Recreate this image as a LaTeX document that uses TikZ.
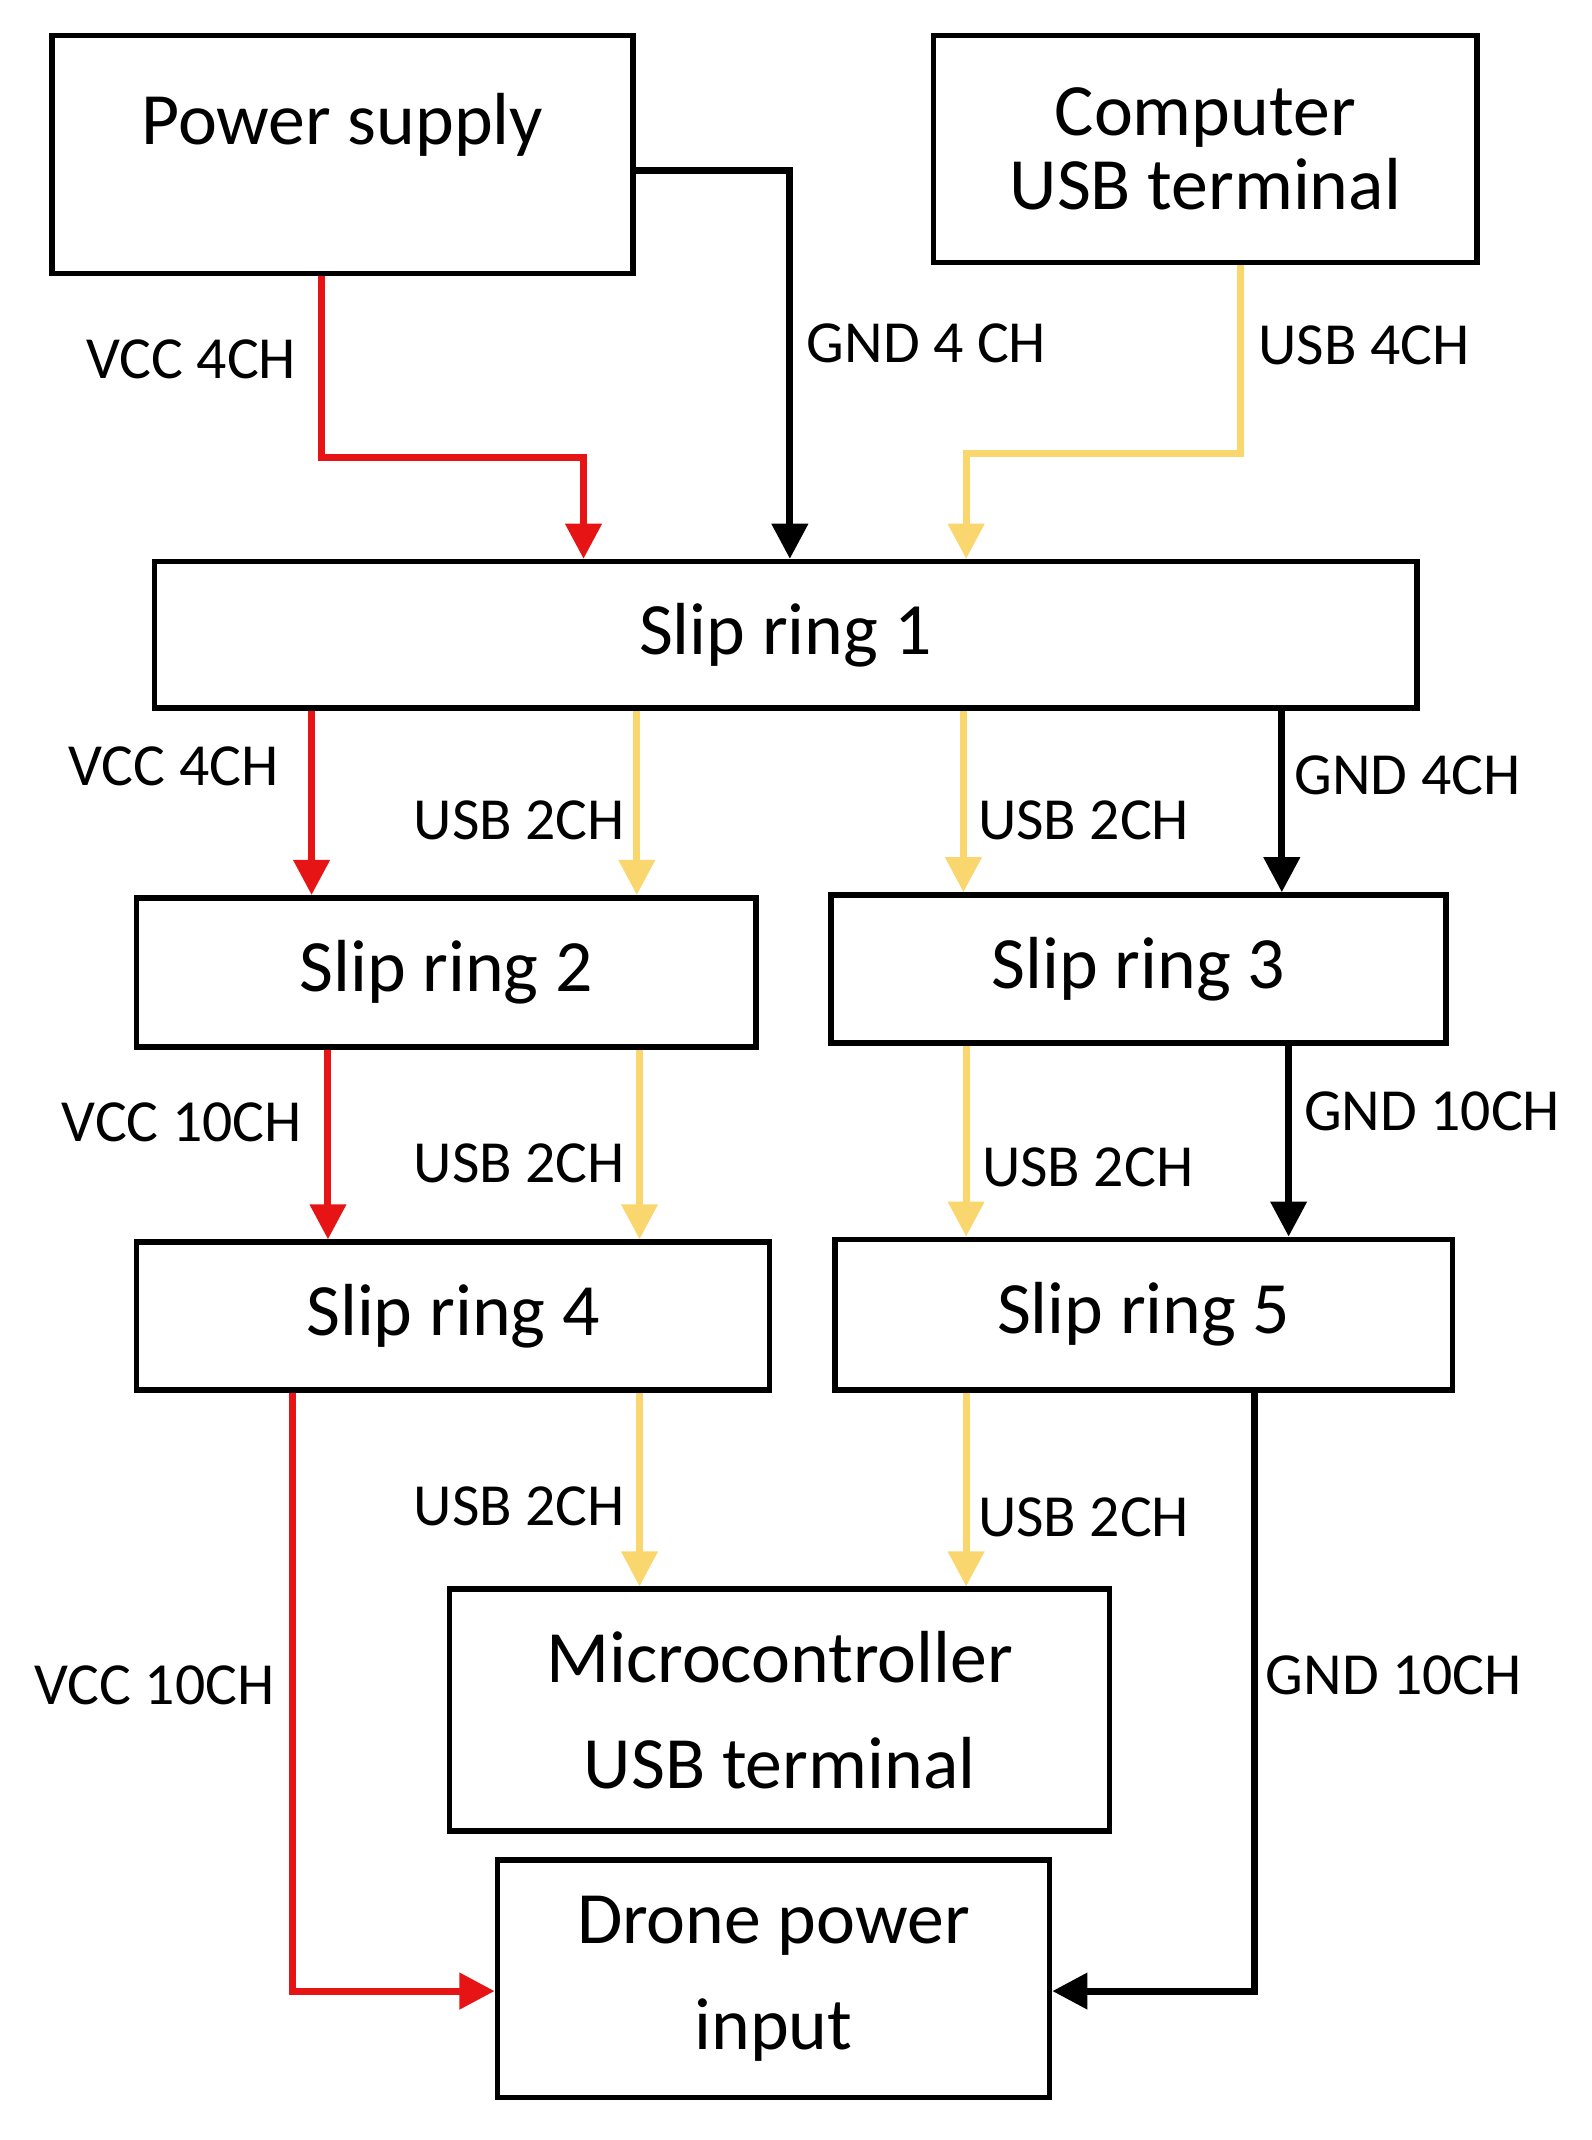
\documentclass[tikz,border=0pt]{standalone}
\usepackage{fontspec}
\setmainfont{Carlito}
\usetikzlibrary{arrows.meta}
\definecolor{vccred}{RGB}{230,20,20}
\definecolor{usbyel}{RGB}{250,215,110}
\begin{document}
\begin{tikzpicture}[x=0.01367cm,y=-0.01367cm,
    block/.style={draw,line width=1.6pt,align=center,font=\fontsize{21}{30}\selectfont,inner sep=0pt},
    wire/.style={line width=2pt,-{Triangle[length=10pt,width=10pt]}},
    vcc/.style={wire,vccred},
    usb/.style={wire,usbyel},
    gnd/.style={wire,black},
    lab/.style={font=\fontsize{17}{20}\selectfont}]

\useasboundingbox (0,0) rectangle (1165,1566);

% boxes
\node[block,minimum width=425*0.01367cm,minimum height=174*0.01367cm,text depth=0.72cm] (ps) at (250.5,113) {Power supply};
\node[block,minimum width=398*0.01367cm,minimum height=166*0.01367cm] (pc) at (882,109) {Computer\\[-9pt]USB terminal};
\node[block,minimum width=924*0.01367cm,minimum height=107*0.01367cm] (sr1) at (575,464.5) {Slip ring 1};
\node[block,minimum width=453*0.01367cm,minimum height=109*0.01367cm] (sr2) at (326.5,711.5) {Slip ring 2};
\node[block,minimum width=450*0.01367cm,minimum height=108*0.01367cm] (sr3) at (833,709) {Slip ring 3};
\node[block,minimum width=463*0.01367cm,minimum height=108*0.01367cm] (sr4) at (331.5,963) {Slip ring 4};
\node[block,minimum width=452*0.01367cm,minimum height=110*0.01367cm] (sr5) at (837,962) {Slip ring 5};
\node[block,minimum width=483*0.01367cm,minimum height=177*0.01367cm] (mcu) at (570.5,1251.5) {Microcontroller\\USB terminal};
\node[block,minimum width=404*0.01367cm,minimum height=174*0.01367cm] (drone) at (566,1448) {Drone power\\input};

% columns
\coordinate (xa) at (235,0);
\coordinate (xb) at (427,0);
\coordinate (xc) at (578,0);
\coordinate (xd) at (707,0);
\coordinate (xe) at (908,0);
\coordinate (k1) at (0,335);
\coordinate (k2) at (0,332);
\coordinate (k3) at (0,1457);

% top level
\draw[vcc] (ps.south -| xa) |- (k1 -| xb) -- (sr1.north -| xb);
\draw[gnd] (ps.east |- {0,125}) -| (sr1.north -| xc);
\draw[usb] (pc.south -| xe) |- (k2 -| xd) -- (sr1.north -| xd);
\node[lab] (l1) at (140,263) {VCC 4CH};
\node[lab] (l2) at (678,251) {GND 4 CH};
\node[lab] (l3) at (998,253) {USB 4CH};

% slip ring 1 to 2 and 3
\coordinate (x1) at (228,0);
\coordinate (x2) at (466,0);
\coordinate (x3) at (705,0);
\coordinate (x4) at (938,0);
\draw[vcc] (sr1.south -| x1) -- (sr2.north -| x1);
\draw[usb] (sr1.south -| x2) -- (sr2.north -| x2);
\draw[usb] (sr1.south -| x3) -- (sr3.north -| x3);
\draw[gnd] (sr1.south -| x4) -- (sr3.north -| x4);
\node[lab] (l4) at (127,561) {VCC 4CH};
\node[lab] (l5) at (380,600) {USB 2CH};
\node[lab] (l6) at (793,600) {USB 2CH};
\node[lab] (l7) at (1030,567) {GND 4CH};

% slip ring 2,3 to 4,5
\coordinate (x5) at (240,0);
\coordinate (x6) at (468,0);
\coordinate (x7) at (943,0);
\draw[vcc] (sr2.south -| x5) -- (sr4.north -| x5);
\draw[usb] (sr2.south -| x6) -- (sr4.north -| x6);
\draw[usb] (sr3.south -| xd) -- (sr5.north -| xd);
\draw[gnd] (sr3.south -| x7) -- (sr5.north -| x7);
\node[lab] (l8) at (133,821) {VCC 10CH};
\node[lab] (l9) at (380,851) {USB 2CH};
\node[lab] (l10) at (796,854) {USB 2CH};
\node[lab] (l11) at (1048,813) {GND 10CH};

% bottom
\coordinate (x8) at (214,0);
\coordinate (x9) at (918,0);
\draw[usb] (sr4.south -| x6) -- (mcu.north -| x6);
\draw[usb] (sr5.south -| xd) -- (mcu.north -| xd);
\draw[vcc] (sr4.south -| x8) |- (drone.west |- k3);
\draw[gnd] (sr5.south -| x9) |- (drone.east |- k3);
\node[lab] (l12) at (380,1102) {USB 2CH};
\node[lab] (l13) at (793,1110) {USB 2CH};
\node[lab] (l14) at (113,1233) {VCC 10CH};
\node[lab] (l15) at (1020,1226) {GND 10CH};
\end{tikzpicture}
\end{document}
